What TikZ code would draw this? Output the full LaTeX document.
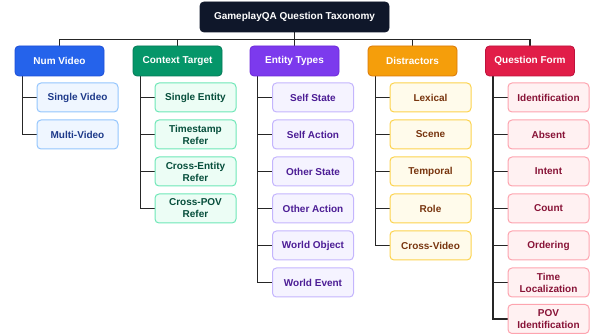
\documentclass[tikz,border=0pt]{standalone}
\usepackage{fontspec}
\setmainfont{Liberation Sans}
\usetikzlibrary{backgrounds}
\begin{document}
\begin{tikzpicture}[x=1pt,y=-1pt,
  every node/.style={font=\bfseries\fontsize{10}{12}\selectfont, align=center, inner sep=0pt},
  rootbox/.style={draw=rootc, fill=rootc, text=white, rounded corners=4pt, minimum width=189pt, minimum height=30pt, line width=0.8pt},
  headbox/.style={rounded corners=4pt, minimum width=89pt, minimum height=30pt, line width=0.8pt, text=white},
  leafbox/.style={rounded corners=4pt, minimum width=81pt, minimum height=29pt, line width=1pt},
  link/.style={draw=linkc, line width=1.5pt},
]
\definecolor{rootc}{HTML}{0F172A}
\definecolor{linkc}{HTML}{262626}
% blue
\definecolor{bhead}{HTML}{2563EB}\definecolor{bedge}{HTML}{1D4ED8}
\definecolor{bfill}{HTML}{EFF6FF}\definecolor{bline}{HTML}{93C5FD}\definecolor{btext}{HTML}{1E3A8A}
% green
\definecolor{ghead}{HTML}{059669}\definecolor{gedge}{HTML}{047857}
\definecolor{gfill}{HTML}{ECFDF5}\definecolor{gline}{HTML}{6EE7B7}\definecolor{gtext}{HTML}{064E3B}
% violet
\definecolor{vhead}{HTML}{7C3AED}\definecolor{vedge}{HTML}{6D28D9}
\definecolor{vfill}{HTML}{F5F3FF}\definecolor{vline}{HTML}{C4B5FD}\definecolor{vtext}{HTML}{4C1D95}
% amber
\definecolor{ahead}{HTML}{F59E0B}\definecolor{aedge}{HTML}{D97706}
\definecolor{afill}{HTML}{FFFBEB}\definecolor{aline}{HTML}{FCD34D}\definecolor{atext}{HTML}{78350F}
% rose
\definecolor{rhead}{HTML}{E11D48}\definecolor{redge}{HTML}{BE123C}
\definecolor{rfill}{HTML}{FFF1F2}\definecolor{rline}{HTML}{FDA4AF}\definecolor{rtext}{HTML}{881337}

\useasboundingbox (0,0) rectangle (590,334);

\node[rootbox] (root) at (294.5,17) {GameplayQA Question Taxonomy};

% category headers
\node[headbox, fill=bhead, draw=bedge] (h1) at (59.5,61)  {Num Video};
\node[headbox, fill=ghead, draw=gedge] (h2) at (177.5,61) {Context Target};
\node[headbox, fill=vhead, draw=vedge] (h3) at (294.5,61) {Entity Types};
\node[headbox, fill=ahead, draw=aedge] (h4) at (412.5,61) {Distractors};
\node[headbox, fill=rhead, draw=redge] (h5) at (530,61)   {Question Form};

% leaves: Num Video
\begin{scope}[every node/.append style={leafbox, fill=bfill, draw=bline, text=btext}]
\node (a1) at (77.5,97.5)  {Single Video};
\node (a2) at (77.5,134.5) {Multi-Video};
\end{scope}
% leaves: Context Target
\begin{scope}[every node/.append style={leafbox, fill=gfill, draw=gline, text=gtext}]
\node (b1) at (195.5,97.5)  {Single Entity};
\node (b2) at (195.5,134.5) {Timestamp\\Refer};
\node (b3) at (195.5,171.5) {Cross-Entity\\Refer};
\node (b4) at (195.5,208.5) {Cross-POV\\Refer};
\end{scope}
% leaves: Entity Types
\begin{scope}[every node/.append style={leafbox, fill=vfill, draw=vline, text=vtext}]
\node (c1) at (313,97.5)  {Self State};
\node (c2) at (313,134.5) {Self Action};
\node (c3) at (313,171.5) {Other State};
\node (c4) at (313,208.5) {Other Action};
\node (c5) at (313,245.5) {World Object};
\node (c6) at (313,282.5) {World Event};
\end{scope}
% leaves: Distractors
\begin{scope}[every node/.append style={leafbox, fill=afill, draw=aline, text=atext}]
\node (d1) at (430.5,97.5)  {Lexical};
\node (d2) at (430.5,134.5) {Scene};
\node (d3) at (430.5,171.5) {Temporal};
\node (d4) at (430.5,208.5) {Role};
\node (d5) at (430.5,245.5) {Cross-Video};
\end{scope}
% leaves: Question Form
\begin{scope}[every node/.append style={leafbox, fill=rfill, draw=rline, text=rtext}]
\node (e1) at (548.5,97.5)  {Identification};
\node (e2) at (548.5,134.5) {Absent};
\node (e3) at (548.5,171.5) {Intent};
\node (e4) at (548.5,208.5) {Count};
\node (e5) at (548.5,245.5) {Ordering};
\node (e6) at (548.5,282.5) {Time\\Localization};
\node (e7) at (548.5,319)   {POV\\Identification};
\end{scope}

\begin{scope}[on background layer]
% root to headers
\foreach \h in {h1,h2,h3,h4,h5}
  \draw[link] (root.south) -- ++(0,7) -| (\h.north);
% header trunks to leaves
\foreach \h/\list in {h1/{a1,a2}, h2/{b1,b2,b3,b4}, h3/{c1,c2,c3,c4,c5,c6}, h4/{d1,d2,d3,d4,d5}, h5/{e1,e2,e3,e4,e5,e6,e7}}
  \foreach \c in \list
    \draw[link] ([xshift=8pt]\h.south west) |- (\c.west);
\end{scope}
\end{tikzpicture}
\end{document}
